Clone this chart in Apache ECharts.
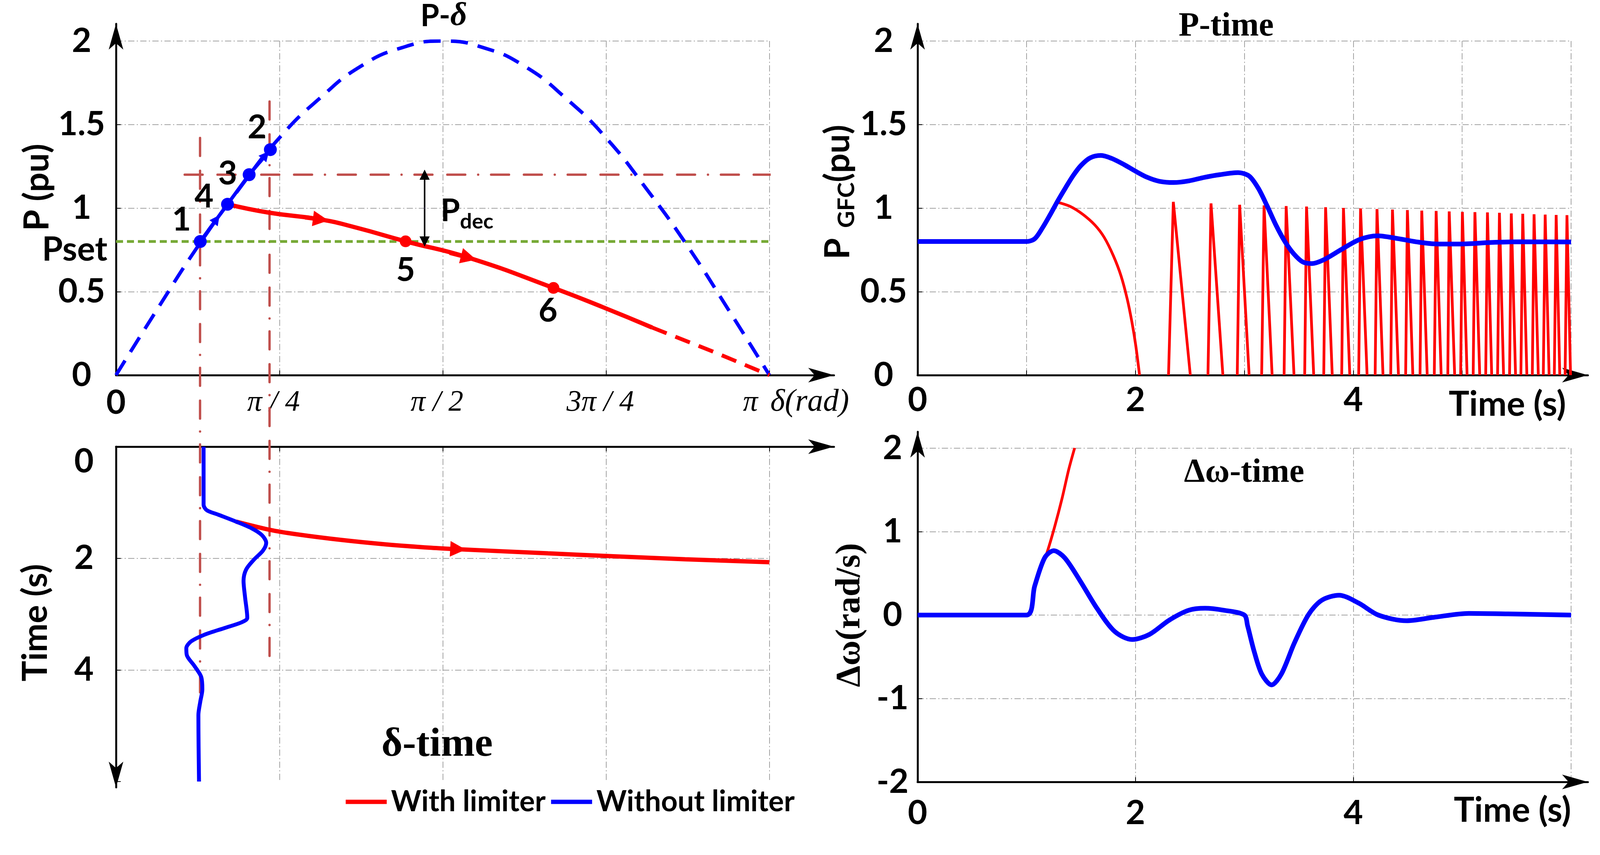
<!DOCTYPE html>
<html>
<head>
<meta charset="utf-8">
<title>GFC with and without limiter</title>
<script src="https://cdn.jsdelivr.net/npm/echarts@6/dist/echarts.min.js"></script>
<style>
html, body { margin: 0; padding: 0; background: #fff; }
#chart { width: 4102px; height: 2188px; }
</style>
</head>
<body>
<div id="chart"></div>
<script>
// ---- P-delta plane ----
const sineDelta = [0, 0.196, 0.393, 0.589, 0.785, 0.982, 1.178, 1.374, 1.571, 1.767, 1.963, 2.16, 2.356, 2.553, 2.749, 2.945, 3.141]
const sineP = [0, 0.39, 0.77, 1.11, 1.42, 1.66, 1.85, 1.96, 2.0, 1.96, 1.85, 1.66, 1.42, 1.11, 0.77, 0.39, 0]

const pointName = ['1', '4', '3', '2']
const pointDelta = [0.405, 0.536, 0.64, 0.742]
const pointP = [0.8, 1.023, 1.2, 1.35]

const limDelta = [0.536, 0.733, 0.984, 1.155, 1.392, 1.695, 2.103, 2.34, 2.577]
const limP = [1.023, 0.973, 0.932, 0.883, 0.801, 0.703, 0.522, 0.407, 0.285]
const limTailDelta = [2.577, 2.868, 3.141]
const limTailP = [0.285, 0.142, 0]

const redPointName = ['5', '6']
const redPointDelta = [1.392, 2.103]
const redPointP = [0.801, 0.522]

const pSet = 0.8
const pLimit = 1.2
const limitLineDelta = [0.33, 6.32]
const pDecDelta = 1.4835
const guideDelta = [0.404, 0.738]
const guideTopP = [1.42, 1.638]
const guideBottomP = [-1.975, -1.763]

const deltaTickLabels = ['0', 'π / 4', 'π / 2', '3π / 4', 'π']

// ---- delta-time ----
const dtBlueDelta = [0.421, 0.421, 0.437, 0.491, 0.577, 0.652, 0.701, 0.722, 0.706, 0.663, 0.625, 0.613, 0.620, 0.631, 0.604, 0.523, 0.426, 0.361, 0.338, 0.340, 0.377, 0.410, 0.415, 0.405, 0.396, 0.397, 0.399]
const dtBlueT = [0, 1.04, 1.14, 1.218, 1.343, 1.463, 1.584, 1.724, 1.864, 2.025, 2.205, 2.405, 2.686, 3.068, 3.147, 3.248, 3.368, 3.489, 3.61, 3.73, 3.93, 4.13, 4.35, 4.57, 4.81, 5.38, 6.0]
const dtRedDelta = [0.577, 0.739, 0.868, 1.084, 1.299, 1.515, 1.644, 2.077, 2.357, 2.736, 3.141]
const dtRedT = [1.343, 1.49, 1.57, 1.672, 1.752, 1.812, 1.838, 1.912, 1.958, 2.018, 2.07]

// ---- P-time ----
const ptBlueT = [0, 1.0, 1.075, 1.146, 1.216, 1.287, 1.358, 1.429, 1.5, 1.585, 1.684, 1.783, 1.897, 2.0, 2.109, 2.222, 2.35, 2.492, 2.634, 2.775, 2.943, 3.044, 3.127, 3.209, 3.291, 3.374, 3.454, 3.537, 3.62, 3.73, 3.895, 4.059, 4.224, 4.387, 4.578, 4.772, 4.99, 5.265, 5.539, 6.0]
const ptBlueP = [0.8, 0.8, 0.816, 0.881, 0.959, 1.043, 1.121, 1.195, 1.255, 1.301, 1.315, 1.297, 1.26, 1.221, 1.184, 1.16, 1.153, 1.163, 1.184, 1.2, 1.212, 1.192, 1.12, 1.013, 0.897, 0.798, 0.726, 0.677, 0.668, 0.691, 0.754, 0.812, 0.834, 0.82, 0.798, 0.785, 0.785, 0.794, 0.798, 0.797]
const ptRedT = [1.28, 1.401, 1.514, 1.627, 1.713, 1.798, 1.868, 1.925, 1.968, 2.003, 2.038]
const ptRedP = [1.036, 1.010, 0.964, 0.899, 0.825, 0.714, 0.594, 0.455, 0.317, 0.178, 0]

const spikeRiseT = [2.304, 2.666, 2.935, 3.159, 3.365, 3.554, 3.729, 3.894, 4.050, 4.201, 4.344, 4.481, 4.613, 4.744, 4.868, 4.986, 5.101, 5.216, 5.325, 5.435, 5.539, 5.644, 5.745, 5.846, 5.945]
const spikePeakT = [2.348, 2.694, 2.957, 3.181, 3.384, 3.571, 3.746, 3.910, 4.067, 4.218, 4.360, 4.497, 4.629, 4.761, 4.881, 5.002, 5.117, 5.232, 5.342, 5.451, 5.556, 5.660, 5.762, 5.863, 5.962]
const spikeFallT = [2.504, 2.803, 3.044, 3.255, 3.456, 3.637, 3.807, 3.968, 4.127, 4.273, 4.415, 4.547, 4.679, 4.807, 4.931, 5.045, 5.161, 5.271, 5.380, 5.490, 5.594, 5.699, 5.798, 5.896, 5.995]
const spikePeakP = [1.037, 1.028, 1.020, 1.016, 1.012, 1.009, 1.005, 1.001, 0.998, 0.994, 0.991, 0.988, 0.985, 0.983, 0.980, 0.977, 0.976, 0.974, 0.972, 0.968, 0.966, 0.963, 0.961, 0.959, 0.958]

// ---- delta omega-time ----
const dwBlueT = [0, 1.0, 1.075, 1.167, 1.25, 1.35, 1.49, 1.65, 1.81, 1.97, 2.13, 2.31, 2.49, 2.64, 2.81, 3.0, 3.03, 3.09, 3.16, 3.25, 3.34, 3.46, 3.59, 3.71, 3.87, 4.05, 4.23, 4.49, 4.74, 5.06, 5.42, 6.0]
const dwBlueW = [0, 0, 0.347, 0.687, 0.772, 0.687, 0.415, 0.075, -0.197, -0.293, -0.231, -0.061, 0.058, 0.082, 0.058, 0, -0.129, -0.435, -0.707, -0.837, -0.707, -0.333, 0.007, 0.177, 0.238, 0.143, 0, -0.068, -0.027, 0.02, 0.014, 0]
const dwRedT = [1.167, 1.19, 1.259, 1.327, 1.387, 1.442]
const dwRedW = [0.687, 0.755, 1.061, 1.401, 1.741, 2.003]

// ---- styling ----
const sans = 'Lato, "Open Sans", sans-serif'
const serif = '"Liberation Serif", "Times New Roman", serif'
const brown = '#C0504D'
const red = '#ff0000'
const blue = '#0000ff'
const brownDash = [46, 38, 46, 33, 0.1, 33]
const gridStyle = { show: true, showMaxLine: true, lineStyle: { color: '#a3a3a3', width: 2, type: [16, 6, 3, 6] } }
const tickStyle = { show: true, inside: true, length: 12, lineStyle: { color: '#000', width: 2 } }
const numText = { fontFamily: sans, fontWeight: 'bold', fontSize: 86, color: '#000' }
const nameText = { fontFamily: sans, fontWeight: 'bold', fontSize: 88, color: '#000' }
const pointLabelOffset = { '1': [-48, -55], '4': [-60, -19], '3': [-55, -2], '2': [-34, -56], '5': [0, 74], '6': [-14, 59] }

const zip = (xs, ys) => xs.map((x, i) => [x, ys[i]])

// short piece of a curve ending at fraction f of segment i, used to hang an arrow head on it
function arrowSeg(xs, ys, i, f) {
    const at = k => [xs[i] + (xs[i + 1] - xs[i]) * k, ys[i] + (ys[i + 1] - ys[i]) * k]
    return { coords: [at(f - 0.3), at(f)] }
}

function pointItem(x, y, name) {
    return {
        value: [x, y],
        label: { show: true, position: 'inside', offset: pointLabelOffset[name], formatter: name, fontFamily: sans, fontWeight: 'bold', fontSize: 84, color: '#000', opacity: 1 }
    }
}

function mainAxis(gridIndex, extra) {
    return Object.assign({
        gridIndex: gridIndex,
        type: 'value',
        axisLine: { show: false, onZero: false },
        axisTick: tickStyle,
        splitLine: gridStyle,
        nameMoveOverlap: false
    }, extra)
}

function arrowAxis(gridIndex, extra, symbol) {
    return Object.assign({
        gridIndex: gridIndex,
        type: 'value',
        min: 0,
        max: 1,
        axisLine: {
            show: true,
            onZero: false,
            symbol: symbol || ['none', 'arrow'],
            symbolSize: [28, 66],
            lineStyle: { color: '#000', width: 5 }
        },
        axisTick: { show: false },
        axisLabel: { show: false },
        splitLine: { show: false }
    }, extra)
}

const spikeData = []
spikeRiseT.forEach((t0, i) => {
    spikeData.push([t0, 0], [spikePeakT[i], spikePeakP[i]], [spikeFallT[i], 0], null)
})

const guideData = []
guideDelta.forEach((d, i) => {
    guideData.push([d, guideTopP[i]], [d, guideBottomP[i]], null)
})

const myChart = echarts.init(document.getElementById('chart'))

myChart.setOption({
    animation: false,
    backgroundColor: '#fff',
    title: [
        {
            text: '{a|P-}{b|δ}', left: 1136, top: 0, textAlign: 'center', padding: 0,
            textStyle: { rich: {
                a: { fontFamily: sans, fontWeight: 'bold', fontSize: 78, color: '#000' },
                b: { fontFamily: serif, fontStyle: 'italic', fontSize: 84, color: '#000' }
            } }
        },
        { text: 'P-time', left: 3139, top: 26, textAlign: 'center', padding: 0, textStyle: { fontFamily: serif, fontWeight: 'bold', fontSize: 86, color: '#000' } },
        { text: 'Δω-time', left: 3185, top: 1168, textAlign: 'center', padding: 0, textStyle: { fontFamily: serif, fontWeight: 'bold', fontSize: 86, color: '#000' } },
        { text: 'δ-time', left: 1119, top: 1855, textAlign: 'center', padding: 0, textStyle: { fontFamily: serif, fontWeight: 'bold', fontSize: 104, color: '#000' } }
    ],
    legend: {
        left: 880,
        top: 2010,
        itemWidth: 105,
        itemHeight: 11,
        itemGap: 14,
        icon: 'rect',
        selectedMode: false,
        textStyle: { fontFamily: sans, fontWeight: 'bold', fontSize: 74, color: '#000', padding: [0, 0, 0, 6] },
        data: [
            { name: 'With limiter', itemStyle: { color: red } },
            { name: 'Without limiter', itemStyle: { color: blue } }
        ]
    },
    grid: [
        { left: 297, top: 105, width: 1673, height: 855, outerBoundsMode: 'none' },
        { left: 297, top: 1143, width: 1673, height: 857, outerBoundsMode: 'none' },
        { left: 2349, top: 105, width: 1673, height: 855, outerBoundsMode: 'none' },
        { left: 2349, top: 1147, width: 1673, height: 854, outerBoundsMode: 'none' },
        // frames that only carry the arrowed axis lines
        { left: 297, top: 61, width: 1838, height: 899, outerBoundsMode: 'none' },
        { left: 297, top: 1143, width: 1838, height: 872, outerBoundsMode: 'none' },
        { left: 2349, top: 61, width: 1716, height: 899, outerBoundsMode: 'none' },
        { left: 2349, top: 1105, width: 1716, height: 896, outerBoundsMode: 'none' }
    ],
    xAxis: [
        mainAxis(0, {
            min: 0, max: Math.PI, interval: Math.PI / 4,
            axisLabel: {
                margin: 28,
                alignMaxLabel: 'right',
                formatter: function (value) {
                    const i = Math.round(value / (Math.PI / 4))
                    return i === 0 ? '{n|0}' : '{p|' + deltaTickLabels[i] + '}'
                },
                rich: {
                    n: Object.assign({ lineHeight: 86 }, numText),
                    p: { fontFamily: serif, fontStyle: 'italic', fontSize: 76, lineHeight: 86, color: '#000', padding: [0, 30, 0, 0] }
                }
            },
            name: 'δ(rad)',
            nameLocation: 'end',
            nameGap: 2,
            nameTextStyle: { fontFamily: serif, fontStyle: 'italic', fontSize: 80, color: '#000', align: 'left', verticalAlign: 'top', padding: [30, 0, 0, 0] }
        }),
        mainAxis(1, {
            min: 0, max: Math.PI, interval: Math.PI / 4, position: 'top',
            axisLabel: { show: false }
        }),
        mainAxis(2, {
            min: 0, max: 6, interval: 1,
            axisLabel: Object.assign({
                margin: 21,
                formatter: value => (value % 2 === 0 && value < 6 ? String(value) : '')
            }, numText),
            name: 'Time (s)',
            nameLocation: 'end',
            nameGap: -13,
            nameTextStyle: Object.assign({ align: 'right', verticalAlign: 'top', padding: [32, 0, 0, 0] }, nameText)
        }),
        mainAxis(3, {
            min: 0, max: 6, interval: 2,
            axisLabel: Object.assign({
                margin: 37,
                formatter: value => (value < 6 ? String(value) : '')
            }, numText),
            name: 'Time (s)',
            nameLocation: 'end',
            nameGap: 0,
            nameTextStyle: Object.assign({ align: 'right', verticalAlign: 'top', padding: [30, 0, 0, 0] }, nameText)
        }),
        arrowAxis(4, { position: 'bottom' }),
        arrowAxis(5, { position: 'top' }),
        arrowAxis(6, { position: 'bottom' }),
        arrowAxis(7, { position: 'bottom' })
    ],
    yAxis: [
        mainAxis(0, {
            min: 0, max: 2, interval: 0.5,
            axisLabel: Object.assign({ margin: 88, align: 'center' }, numText),
            name: 'P (pu)',
            nameLocation: 'middle',
            nameRotate: 90,
            nameGap: 157,
            nameTextStyle: Object.assign({ padding: [0, 0, 0, 106] }, nameText)
        }),
        mainAxis(1, {
            min: 0, max: 6, interval: 2, inverse: true,
            splitLine: Object.assign({}, gridStyle, { showMaxLine: false }),
            axisLabel: Object.assign({
                margin: 82,
                align: 'center',
                formatter: value => (value === 0 ? '{lo|0}' : value < 6 ? String(value) : ''),
                rich: { lo: Object.assign({ padding: [76, 0, 0, 0] }, numText) }
            }, numText),
            name: 'Time (s)',
            nameLocation: 'middle',
            nameRotate: 90,
            nameGap: 161,
            nameTextStyle: Object.assign({ padding: [0, 44, 0, 0] }, nameText)
        }),
        mainAxis(2, {
            min: 0, max: 2, interval: 0.5,
            axisLabel: Object.assign({ margin: 87, align: 'center' }, numText),
            name: '{p|P}{g| }{s|GFC}{p|(pu)}',
            nameLocation: 'middle',
            nameRotate: 90,
            nameGap: 159,
            nameTextStyle: {
                padding: [0, 0, 0, 82],
                rich: {
                    p: Object.assign({ lineHeight: 88, verticalAlign: 'top' }, nameText),
                    g: { fontFamily: sans, fontSize: 60, width: 26, lineHeight: 60 },
                    s: { fontFamily: sans, fontWeight: 'bold', fontSize: 60, lineHeight: 60, verticalAlign: 'top', padding: [36, 0, 0, 0], color: '#000' }
                }
            }
        }),
        mainAxis(3, {
            min: -2, max: 2, interval: 1,
            axisLabel: Object.assign({ margin: 64, align: 'center' }, numText),
            name: 'Δω(rad/s)',
            nameLocation: 'middle',
            nameRotate: 90,
            nameGap: 128,
            nameTextStyle: { fontFamily: serif, fontWeight: 'bold', fontSize: 88, color: '#000' }
        }),
        arrowAxis(4, {}),
        arrowAxis(5, { inverse: true }, ['arrow', 'none']),
        arrowAxis(6, {}),
        arrowAxis(7, {})
    ],
    series: [
        // ---------- P-delta ----------
        {
            type: 'line', xAxisIndex: 0, yAxisIndex: 0, z: 1,
            data: guideData, clip: false, showSymbol: false, silent: true,
            lineStyle: { color: brown, width: 6, type: brownDash, cap: 'round' }
        },
        {
            type: 'line', xAxisIndex: 0, yAxisIndex: 0, z: 1,
            data: [[limitLineDelta[0], pLimit], [limitLineDelta[1], pLimit]],
            clip: false, showSymbol: false, silent: true,
            lineStyle: { color: brown, width: 6, type: brownDash, cap: 'round' }
        },
        {
            type: 'line', xAxisIndex: 0, yAxisIndex: 0, z: 2,
            data: [[0, pSet], [Math.PI, pSet]], showSymbol: false,
            lineStyle: { color: '#76a935', width: 7, type: [18, 10] }
        },
        {
            type: 'line', xAxisIndex: 0, yAxisIndex: 0, z: 3,
            data: zip(sineDelta, sineP), smooth: true, showSymbol: false,
            lineStyle: { color: blue, width: 9, type: [44, 26] }
        },
        {
            type: 'line', xAxisIndex: 0, yAxisIndex: 0, z: 4,
            data: zip(limTailDelta, limTailP), showSymbol: false,
            lineStyle: { color: red, width: 10, type: [40, 24] }
        },
        {
            name: 'With limiter', type: 'line', xAxisIndex: 0, yAxisIndex: 0, z: 4,
            data: zip(limDelta, limP), smooth: true, showSymbol: false,
            lineStyle: { color: red, width: 11 }
        },
        {
            name: 'Without limiter', type: 'line', xAxisIndex: 0, yAxisIndex: 0, z: 6,
            data: pointDelta.map((d, i) => pointItem(d, pointP[i], pointName[i])),
            symbol: 'circle', symbolSize: 33, showSymbol: true,
            itemStyle: { color: blue, opacity: 1 }, lineStyle: { color: blue, width: 9 }
        },
        {
            type: 'scatter', xAxisIndex: 0, yAxisIndex: 0, z: 6,
            data: redPointDelta.map((d, i) => pointItem(d, redPointP[i], redPointName[i])),
            symbol: 'circle', symbolSize: 30, itemStyle: { color: red, opacity: 1 }
        },
        {
            type: 'scatter', xAxisIndex: 0, yAxisIndex: 0, z: 6, clip: false,
            data: [[0, pSet]], symbolSize: 0, itemStyle: { opacity: 1 },
            label: { show: true, position: 'left', distance: 22, offset: [0, 21], formatter: 'Pset', fontFamily: sans, fontWeight: 'bold', fontSize: 86, color: '#000', opacity: 1 }
        },
        {
            type: 'lines', coordinateSystem: 'cartesian2d', xAxisIndex: 0, yAxisIndex: 0, z: 5,
            data: [{ coords: [[pDecDelta, pLimit], [pDecDelta, pSet]] }],
            symbol: ['triangle', 'triangle'], symbolSize: 26,
            lineStyle: { color: '#000', width: 4, opacity: 1 }
        },
        {
            type: 'scatter', xAxisIndex: 0, yAxisIndex: 0, z: 6,
            data: [[pDecDelta, (pSet + pLimit) / 2]], symbolSize: 0, itemStyle: { opacity: 1 },
            label: {
                show: true, position: 'right', distance: 40, offset: [0, 8], opacity: 1,
                formatter: '{p|P}{s|dec}',
                rich: {
                    p: { fontFamily: sans, fontWeight: 'bold', fontSize: 80, lineHeight: 80, verticalAlign: 'top', color: '#000' },
                    s: { fontFamily: sans, fontWeight: 'bold', fontSize: 54, lineHeight: 54, verticalAlign: 'top', padding: [40, 0, 0, 0], color: '#000' }
                }
            }
        },
        {
            type: 'lines', coordinateSystem: 'cartesian2d', xAxisIndex: 0, yAxisIndex: 0, z: 5,
            data: [arrowSeg(limDelta, limP, 1, 1), arrowSeg(limDelta, limP, 4, 1)],
            symbol: ['none', 'triangle'], symbolSize: 40,
            lineStyle: { color: red, width: 11, opacity: 1 }
        },
        {
            type: 'lines', coordinateSystem: 'cartesian2d', xAxisIndex: 0, yAxisIndex: 0, z: 7,
            data: [arrowSeg(pointDelta, pointP, 0, 0.6), arrowSeg(pointDelta, pointP, 2, 0.78)],
            symbol: ['none', 'triangle'], symbolSize: 26,
            lineStyle: { color: blue, width: 9, opacity: 1 }
        },
        // ---------- delta-time ----------
        {
            name: 'With limiter', type: 'line', xAxisIndex: 1, yAxisIndex: 1, z: 4,
            data: zip(dtRedDelta, dtRedT), smooth: 0.3, showSymbol: false,
            lineStyle: { color: red, width: 11 }
        },
        {
            name: 'Without limiter', type: 'line', xAxisIndex: 1, yAxisIndex: 1, z: 5,
            data: zip(dtBlueDelta, dtBlueT), smooth: 0.3, showSymbol: false,
            lineStyle: { color: blue, width: 10 }
        },
        {
            type: 'lines', coordinateSystem: 'cartesian2d', xAxisIndex: 1, yAxisIndex: 1, z: 5,
            data: [arrowSeg(dtRedDelta, dtRedT, 5, 1)],
            symbol: ['none', 'triangle'], symbolSize: 40,
            lineStyle: { color: red, width: 11, opacity: 1 }
        },
        // ---------- P-time ----------
        {
            name: 'With limiter', type: 'line', xAxisIndex: 2, yAxisIndex: 2, z: 3,
            data: zip(ptRedT, ptRedP), smooth: 0.3, showSymbol: false,
            lineStyle: { color: red, width: 7 }
        },
        {
            name: 'With limiter', type: 'line', xAxisIndex: 2, yAxisIndex: 2, z: 3,
            data: spikeData, showSymbol: false, connectNulls: false,
            lineStyle: { color: red, width: 7 }
        },
        {
            name: 'Without limiter', type: 'line', xAxisIndex: 2, yAxisIndex: 2, z: 5,
            data: zip(ptBlueT, ptBlueP), smooth: 0.3, showSymbol: false,
            lineStyle: { color: blue, width: 12 }
        },
        // ---------- delta omega-time ----------
        {
            name: 'With limiter', type: 'line', xAxisIndex: 3, yAxisIndex: 3, z: 3,
            data: zip(dwRedT, dwRedW), smooth: 0.3, showSymbol: false,
            lineStyle: { color: red, width: 7 }
        },
        {
            name: 'Without limiter', type: 'line', xAxisIndex: 3, yAxisIndex: 3, z: 5,
            data: zip(dwBlueT, dwBlueW), smooth: 0.3, showSymbol: false,
            lineStyle: { color: blue, width: 12 }
        }
    ]
})
</script>
</body>
</html>
